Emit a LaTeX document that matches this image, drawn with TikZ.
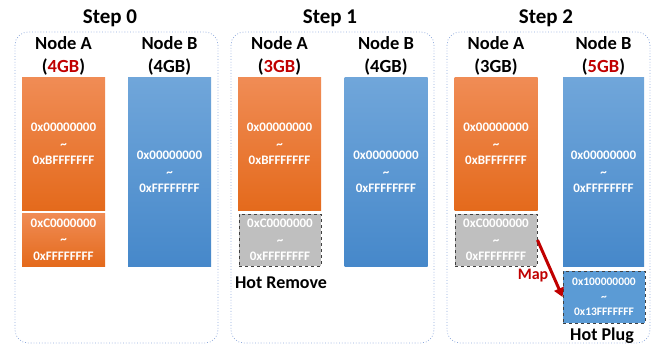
\documentclass[tikz,border=0pt]{standalone}
\usepackage{fontspec}
\setmainfont{Carlito}
\usetikzlibrary{arrows.meta}
\definecolor{orTop}{HTML}{F08C55}
\definecolor{orBot}{HTML}{E46A1C}
\definecolor{blTop}{HTML}{70A6DA}
\definecolor{blBot}{HTML}{4688CA}
\definecolor{plugc}{HTML}{5B9BD5}
\definecolor{greyc}{HTML}{BFBFBF}
\definecolor{panelc}{HTML}{8FAADC}
\definecolor{darkred}{HTML}{C00000}
\newcommand{\tld}{\textasciitilde}
\begin{document}
\begin{tikzpicture}[x=1pt,y=-1pt,
  panel/.style={draw=panelc, dotted, line width=0.8pt, rounded corners=13pt},
  steptitle/.style={font=\fontsize{21}{24}\selectfont\bfseries, inner sep=0},
  nodelabel/.style={font=\fontsize{18.5}{23}\selectfont\bfseries, align=center, inner sep=0},
  blk/.style={rectangle, inner sep=0, minimum width=83pt, text=white, align=center,
    font=\fontsize{13}{16.5}\selectfont\bfseries},
  orblk/.style={blk, top color=orTop, bottom color=orBot},
  blblk/.style={blk, top color=blTop, bottom color=blBot},
  greyblk/.style={blk, fill=greyc, draw=black!75, dashed, line width=0.9pt},
  plugblk/.style={blk, fill=plugc, draw=black!75, dashed, line width=0.9pt,
    font=\fontsize{11.5}{15}\selectfont\bfseries},
  caption/.style={font=\fontsize{18}{22}\selectfont\bfseries, inner sep=0},
  maparrow/.style={draw=darkred, line width=3pt, -{Triangle[length=9pt,width=10pt]}}
]
\useasboundingbox (0,0) rectangle (654,345);

% ---- Step 0 ----
\draw[panel] (15,32) rectangle (218,343);
\node[steptitle] (t0) at (110,18) {Step 0};
\node[nodelabel] (la0) at (63.5,56) {Node A\\(\textcolor{darkred}{4GB})};
\node[nodelabel] (lb0) at (169.5,56) {Node B\\(4GB)};
\node[orblk, minimum height=132pt] (a0) at (63.5,144) {0x00000000\\\tld\\0xBFFFFFFF};
\node[orblk, minimum height=53pt] (c0) at (63.5,239.5) {0xC0000000\\\tld\\0xFFFFFFFF};
\node[blblk, minimum height=188pt] (b0) at (169.5,172) {0x00000000\\\tld\\0xFFFFFFFF};

% ---- Step 1 ----
\draw[panel] (231,32) rectangle (434,343);
\node[steptitle] (t1) at (330,18) {Step 1};
\node[nodelabel] (la1) at (279.5,56) {Node A\\(\textcolor{darkred}{3GB})};
\node[nodelabel] (lb1) at (386,56) {Node B\\(4GB)};
\node[orblk, minimum height=132pt] (a1) at (279.5,144) {0x00000000\\\tld\\0xBFFFFFFF};
\node[greyblk, minimum width=82pt, minimum height=52pt] (c1) at (280,240) {0xC0000000\\\tld\\0xFFFFFFFF};
\node[blblk, minimum height=188pt] (b1) at (386,172) {0x00000000\\\tld\\0xFFFFFFFF};
\node[caption] (hr) at (281,283) {Hot Remove};

% ---- Step 2 ----
\draw[panel] (447,32) rectangle (650,343);
\node[steptitle] (t2) at (546,18) {Step 2};
\node[nodelabel] (la2) at (496,56) {Node A\\(3GB)};
\node[nodelabel] (lb2) at (603.5,56) {Node B\\(\textcolor{darkred}{5GB})};
\node[orblk, minimum height=132pt] (a2) at (496,144) {0x00000000\\\tld\\0xBFFFFFFF};
\node[greyblk, minimum width=82pt, minimum height=52pt] (c2) at (496,240) {0xC0000000\\\tld\\0xFFFFFFFF};
\node[blblk, minimum width=81pt, minimum height=188pt] (b2) at (603.5,172) {0x00000000\\\tld\\0xFFFFFFFF};
\node[plugblk, minimum width=82pt, minimum height=52pt] (p2) at (604,297) {0x100000000\\\tld\\0x13FFFFFFF};
\node[caption] (hp) at (602,336) {Hot Plug};

\draw[maparrow] (c2.east) -- (p2.west);
\node[font=\fontsize{16}{18}\selectfont\bfseries, text=darkred, inner sep=0] (map) at (533,276) {Map};
\end{tikzpicture}
\end{document}
